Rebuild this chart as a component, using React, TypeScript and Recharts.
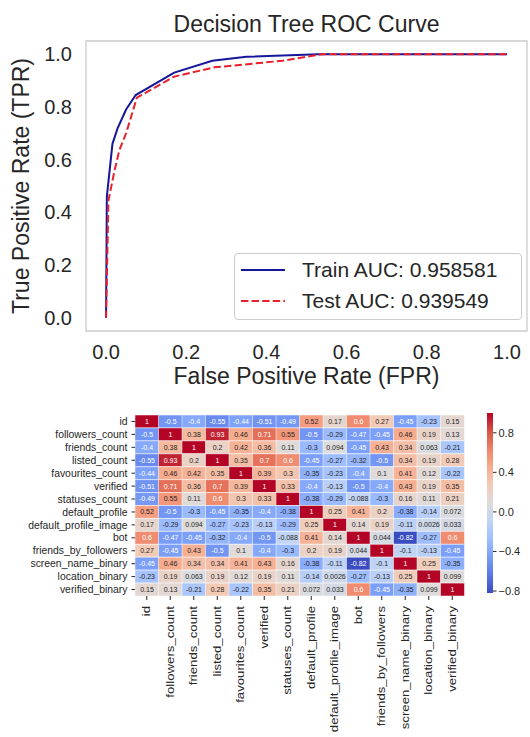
import React from "react";
import {
  LineChart,
  Line,
  XAxis,
  YAxis,
  ReferenceArea,
  Legend,
  BarChart,
  Bar,
  Cell,
  LabelList,
} from "recharts";

// ROC curve points
const trainFpr = [0, 0.002, 0.016, 0.029, 0.05, 0.074, 0.17, 0.265, 0.35, 0.53, 1];
const trainTpr = [0, 0.46, 0.66, 0.72, 0.79, 0.845, 0.93, 0.975, 0.99, 1, 1];
const testFpr = [0, 0.006, 0.02, 0.033, 0.05, 0.077, 0.17, 0.27, 0.44, 0.54, 1];
const testTpr = [0, 0.445, 0.55, 0.635, 0.7, 0.835, 0.915, 0.95, 0.975, 1, 1];
const rocTicks = [0, 0.2, 0.4, 0.6, 0.8, 1.0];

const trainName = "Train AUC: 0.958581";
const testName = "Test AUC: 0.939549";
const legendOrder = [trainName, testName];

// correlation heatmap
const featureLabels = [
  "id",
  "followers_count",
  "friends_count",
  "listed_count",
  "favourites_count",
  "verified",
  "statuses_count",
  "default_profile",
  "default_profile_image",
  "bot",
  "friends_by_followers",
  "screen_name_binary",
  "location_binary",
  "verified_binary",
];

const corrRows = [
  [1, -0.5, -0.4, -0.55, -0.44, -0.51, -0.49, 0.52, 0.17, 0.6, 0.27, -0.45, -0.23, 0.15],
  [-0.5, 1, 0.38, 0.93, 0.46, 0.71, 0.55, -0.5, -0.29, -0.47, -0.45, 0.46, 0.19, 0.13],
  [-0.4, 0.38, 1, 0.2, 0.42, 0.36, 0.11, -0.3, 0.094, -0.45, 0.43, 0.34, 0.063, -0.21],
  [-0.55, 0.93, 0.2, 1, 0.35, 0.7, 0.6, -0.45, -0.27, -0.32, -0.5, 0.34, 0.19, 0.28],
  [-0.44, 0.46, 0.42, 0.35, 1, 0.39, 0.3, -0.35, -0.23, -0.4, 0.1, 0.41, 0.12, -0.22],
  [-0.51, 0.71, 0.36, 0.7, 0.39, 1, 0.33, -0.4, -0.13, -0.5, -0.4, 0.43, 0.19, 0.35],
  [-0.49, 0.55, 0.11, 0.6, 0.3, 0.33, 1, -0.38, -0.29, -0.088, -0.3, 0.16, 0.11, 0.21],
  [0.52, -0.5, -0.3, -0.45, -0.35, -0.4, -0.38, 1, 0.25, 0.41, 0.2, -0.38, -0.14, 0.072],
  [0.17, -0.29, 0.094, -0.27, -0.23, -0.13, -0.29, 0.25, 1, 0.14, 0.19, -0.11, 0.0026, 0.033],
  [0.6, -0.47, -0.45, -0.32, -0.4, -0.5, -0.088, 0.41, 0.14, 1, 0.044, -0.82, -0.27, 0.6],
  [0.27, -0.45, 0.43, -0.5, 0.1, -0.4, -0.3, 0.2, 0.19, 0.044, 1, -0.1, -0.13, -0.45],
  [-0.45, 0.46, 0.34, 0.34, 0.41, 0.43, 0.16, -0.38, -0.11, -0.82, -0.1, 1, 0.25, -0.35],
  [-0.23, 0.19, 0.063, 0.19, 0.12, 0.19, 0.11, -0.14, 0.0026, -0.27, -0.13, 0.25, 1, 0.099],
  [0.15, 0.13, -0.21, 0.28, -0.22, 0.35, 0.21, 0.072, 0.033, 0.6, -0.45, -0.35, 0.099, 1],
];

const colorbarTicks = [-0.8, -0.4, 0, 0.4, 0.8];

const FONT = '"Liberation Sans", Arial, sans-serif';
const INK = "#262626";
const STRETCH = 1.27; // column labels of the lower figure are stretched

const coolwarmHex = [
  "#3b4cc0", "#5977e3", "#7b9ff9", "#9ebeff", "#c0d4f5", "#dddcdc",
  "#f2cbb7", "#f7ac8e", "#ee8468", "#d65244", "#b40426",
];

function hexToRgb(h: string) {
  const n = parseInt(h.slice(1), 16);
  return [(n >> 16) & 255, (n >> 8) & 255, n & 255];
}

function coolwarmRgb(t: number) {
  const c = Math.max(0, Math.min(1, t)) * (coolwarmHex.length - 1);
  const i = Math.min(Math.floor(c), coolwarmHex.length - 2);
  const f = c - i;
  const a = hexToRgb(coolwarmHex[i]);
  const b = hexToRgb(coolwarmHex[i + 1]);
  return a.map((v, k) => Math.round(v + (b[k] - v) * f));
}

const allCorr = corrRows.flat();
const vmin = Math.min(...allCorr);
const vmax = Math.max(...allCorr);

function cellRgb(v: number) {
  return coolwarmRgb((v - vmin) / (vmax - vmin));
}
function rgbStr(c: number[]) {
  return `rgb(${c[0]},${c[1]},${c[2]})`;
}
function textColor(c: number[]) {
  const lin = c.map((v) => {
    const s = v / 255;
    return s <= 0.03928 ? s / 12.92 : Math.pow((s + 0.055) / 1.055, 2.4);
  });
  const lum = 0.2126 * lin[0] + 0.7152 * lin[1] + 0.0722 * lin[2];
  return lum > 0.408 ? INK : "#ffffff";
}
function fmt2g(v: number) {
  return Number(v.toPrecision(2)).toString();
}

const trainData = trainFpr.map((f, i) => ({ fpr: f, tpr: trainTpr[i] }));
const testData = testFpr.map((f, i) => ({ fpr: f, tpr: testTpr[i] }));

const heatData = featureLabels.map((name) => {
  const row: any = { name };
  featureLabels.forEach((_, r) => (row["r" + r] = 1));
  return row;
});
const rowTicks = featureLabels.map((_, i) => i + 0.5);

const dashes: Record<string, string | undefined> = {
  [trainName]: undefined,
  [testName]: "7.4 3.2",
};

function RocLegend(props: any) {
  const items = [...(props.payload || [])].sort(
    (a: any, b: any) => legendOrder.indexOf(a.value) - legendOrder.indexOf(b.value)
  );
  return (
    <div
      style={{
        boxSizing: "border-box",
        width: 288,
        height: 67,
        background: "#fff",
        border: "1px solid #cccccc",
        borderRadius: 4,
        paddingLeft: 6,
        fontFamily: FONT,
      }}
    >
      {items.map((it: any) => (
        <div key={it.value} style={{ display: "flex", alignItems: "center", height: 31 }}>
          <svg width={44} height={8} style={{ display: "block" }}>
            <line x1={0} y1={4} x2={44} y2={4} stroke={it.color} strokeWidth={2} strokeDasharray={dashes[it.value]} />
          </svg>
          <span style={{ marginLeft: 17, fontSize: 21, lineHeight: "21px", color: INK }}>{it.value}</span>
        </div>
      ))}
    </div>
  );
}

function YTitle(props: any) {
  const vb = props.viewBox;
  return (
    <text
      transform={`translate(${vb.x + 29},${vb.y + vb.height / 2}) rotate(-90)`}
      textAnchor="middle"
      fontSize={23}
      fill={INK}
      fontFamily={FONT}
    >
      True Positive Rate (TPR)
    </text>
  );
}

function RowTick(props: any) {
  const { x, y, payload } = props;
  return (
    <text x={x} y={y} textAnchor="end" dy="0.35em" fontSize={10.4} fill={INK} fontFamily={FONT}>
      {featureLabels[Math.floor(payload.value)]}
    </text>
  );
}

function ColTick(props: any) {
  const { x, y, payload } = props;
  return (
    <text
      transform={`translate(${x},${y}) rotate(-90) scale(${STRETCH},1)`}
      textAnchor="end"
      dy="0.35em"
      fontSize={10.4}
      fill={INK}
      fontFamily={FONT}
    >
      {payload.value}
    </text>
  );
}

function annot(r: number) {
  return (props: any) => {
    const vb = props.viewBox || props;
    const v = corrRows[r][props.index];
    if (v === undefined) return null;
    return (
      <text
        x={vb.x + vb.width / 2}
        y={vb.y + vb.height / 2}
        textAnchor="middle"
        dy="0.35em"
        fontSize={7}
        fill={textColor(cellRgb(v))}
        fontFamily={FONT}
      >
        {fmt2g(v)}
      </text>
    );
  };
}

const fmt1 = (v: number) => v.toFixed(1);
const fmtBar = (v: number) => (v < 0 ? "\u2212" + Math.abs(v).toFixed(1) : v.toFixed(1));

export default function App() {
  const axisTick = { fontSize: 20, fill: INK, fontFamily: FONT };
  return (
    <div
      style={{
        position: "absolute",
        left: 0,
        top: 0,
        width: 530,
        height: 737,
        background: "#fff",
        overflow: "hidden",
      }}
    >
      <div
        style={{
          position: "absolute",
          left: 86,
          top: 13,
          width: 441,
          textAlign: "center",
          fontSize: 23,
          lineHeight: "23px",
          fontFamily: FONT,
          color: INK,
        }}
      >
        Decision Tree ROC Curve
      </div>

      <div style={{ position: "absolute", left: 0, top: 0 }}>
        <LineChart width={530} height={395} margin={{ top: 41, right: 3, bottom: 8, left: 0 }}>
          <XAxis
            type="number"
            dataKey="fpr"
            domain={[-0.05, 1.05]}
            ticks={rocTicks}
            tickFormatter={fmt1}
            allowDataOverflow
            axisLine={false}
            tickLine={false}
            tickSize={0}
            tickMargin={14}
            height={56}
            tick={axisTick}
            label={{
              value: "False Positive Rate (FPR)",
              position: "insideBottom",
              offset: 3,
              fontSize: 23,
              fill: INK,
              fontFamily: FONT,
            }}
          />
          <YAxis
            type="number"
            domain={[-0.05, 1.05]}
            ticks={rocTicks}
            tickFormatter={fmt1}
            allowDataOverflow
            axisLine={false}
            tickLine={false}
            tickSize={0}
            tickMargin={14}
            width={86}
            tick={axisTick}
            label={(p: any) => <YTitle {...p} />}
          />
          <ReferenceArea
            x1={-0.05}
            x2={1.05}
            y1={-0.05}
            y2={1.05}
            fill="none"
            stroke="#cccccc"
            strokeWidth={1.3}
          />
          <Line
            data={trainData}
            dataKey="tpr"
            name={trainName}
            type="linear"
            stroke="#16169a"
            strokeWidth={2}
            dot={false}
            isAnimationActive={false}
          />
          <Line
            data={testData}
            dataKey="tpr"
            name={testName}
            type="linear"
            stroke="#e8202c"
            strokeWidth={2}
            strokeDasharray="7.4 3.2"
            dot={false}
            isAnimationActive={false}
          />
          <Legend
            layout="vertical"
            align="center"
            verticalAlign="middle"
            wrapperStyle={{ left: 234, top: 253, width: 288, height: 67 }}
            content={(p: any) => <RocLegend {...p} />}
          />
        </LineChart>
      </div>

      <div style={{ position: "absolute", left: 0, top: 400 }}>
        <BarChart
          width={470}
          height={337}
          data={heatData}
          margin={{ top: 15, right: 6, bottom: 0, left: 0 }}
          barCategoryGap={0}
          barGap={0}
        >
          <XAxis
            dataKey="name"
            type="category"
            interval={0}
            height={141}
            axisLine={false}
            tickSize={4}
            tickMargin={6}
            tickLine={{ stroke: INK }}
            tick={(p: any) => <ColTick {...p} />}
          />
          <YAxis
            type="number"
            domain={[0, featureLabels.length]}
            reversed
            allowDataOverflow
            ticks={rowTicks}
            interval={0}
            width={135}
            axisLine={false}
            tickSize={3.5}
            tickMargin={4}
            tickLine={{ stroke: INK }}
            tick={(p: any) => <RowTick {...p} />}
          />
          {featureLabels.map((rowName, r) => (
            <Bar
              key={rowName}
              dataKey={"r" + r}
              stackId="heat"
              stroke="#ffffff"
              strokeWidth={0.5}
              isAnimationActive={false}
            >
              {featureLabels.map((colName, c) => (
                <Cell key={colName} fill={rgbStr(cellRgb(corrRows[r][c]))} />
              ))}
              <LabelList content={annot(r)} />
            </Bar>
          ))}
        </BarChart>
      </div>

      <div style={{ position: "absolute", left: 470, top: 400 }}>
        <BarChart
          width={60}
          height={200}
          data={[{ name: "cb", range: [vmin, vmax] }]}
          margin={{ top: 13, right: 0, bottom: 7, left: 17 }}
          barCategoryGap={0}
        >
          <defs>
            <linearGradient id="cbGrad" x1="0" y1="0" x2="0" y2="1">
              {[...coolwarmHex].reverse().map((h, k) => (
                <stop key={h} offset={k / (coolwarmHex.length - 1)} stopColor={h} />
              ))}
            </linearGradient>
          </defs>
          <XAxis dataKey="name" hide height={0} />
          <YAxis
            orientation="right"
            type="number"
            domain={[vmin, vmax]}
            ticks={colorbarTicks}
            tickFormatter={fmtBar}
            width={37}
            axisLine={false}
            tickSize={3.5}
            tickMargin={2}
            tickLine={{ stroke: INK }}
            tick={{ fontSize: 11, fill: INK, fontFamily: FONT }}
          />
          <Bar dataKey="range" fill="url(#cbGrad)" isAnimationActive={false} />
        </BarChart>
      </div>
    </div>
  );
}
